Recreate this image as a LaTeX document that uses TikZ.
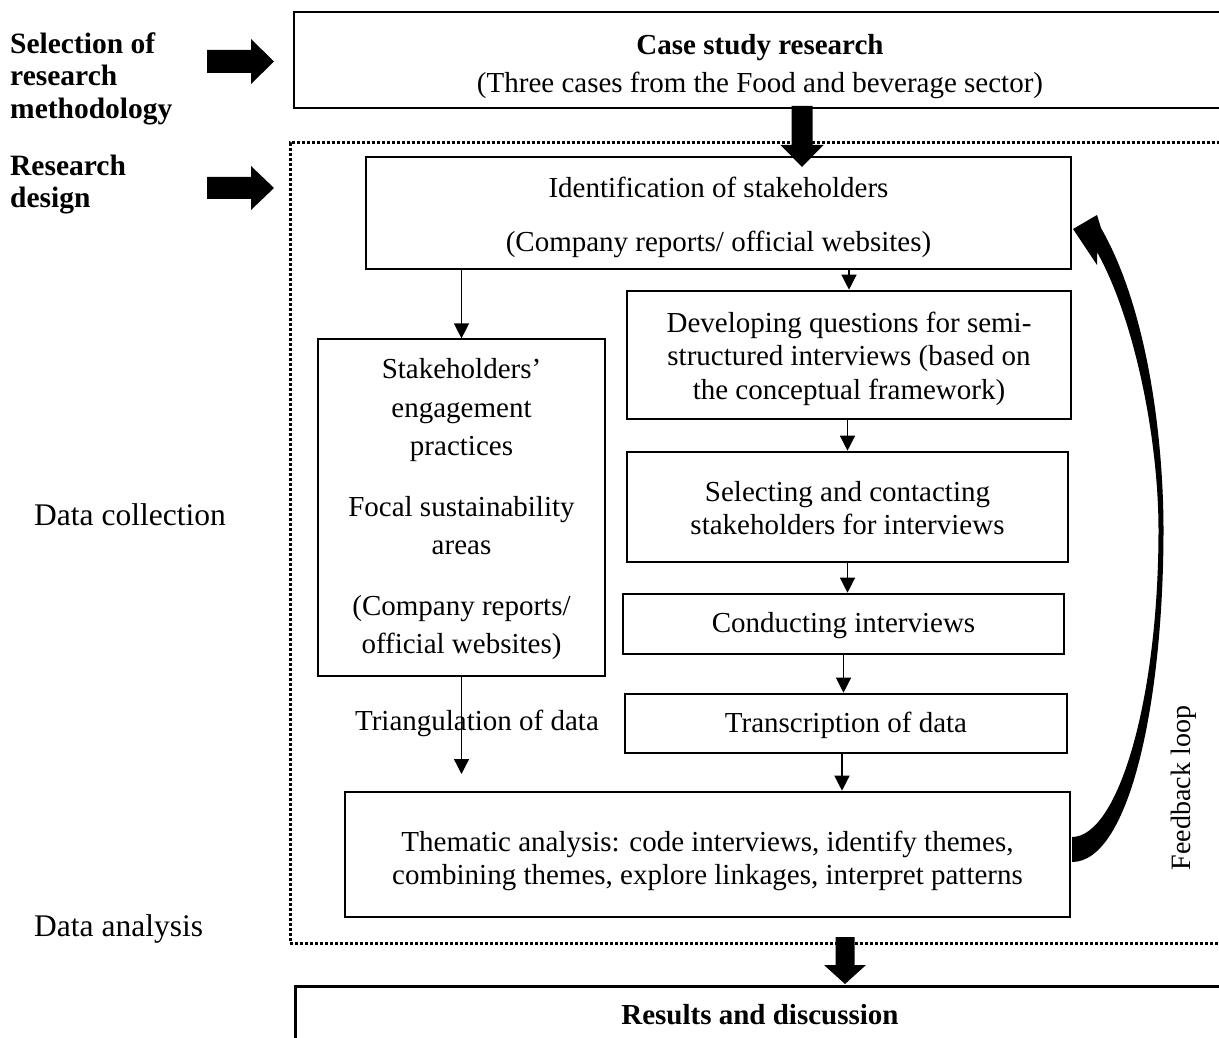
\documentclass[tikz,border=0pt]{standalone}
\usepackage{fontspec}
\setmainfont{Liberation Serif}
\usetikzlibrary{arrows.meta}
\begin{document}
\begin{tikzpicture}[x=1pt,y=-1pt,
  box/.style={draw, line width=2.6pt, inner sep=0pt},
  thinbox/.style={draw, line width=1.2pt, inner sep=0pt},
  frame/.style={draw, line width=3pt, dash pattern=on 3pt off 2pt, inner sep=0pt},
  flow/.style={line width=1.3pt, -{Triangle[length=15pt,width=15pt]}},
  blk/.style={fill=black, draw=none},
  txt/.style={inner sep=0pt, align=center, font=\fontsize{29}{33}\selectfont},
  side/.style={inner sep=0pt, anchor=west, align=left, font=\bfseries\fontsize{29.5}{32.5}\selectfont},
  phase/.style={inner sep=0pt, anchor=west, font=\fontsize{31.5}{36}\selectfont}]
\useasboundingbox (0,0) rectangle (1219,1038);
\clip (0,0) rectangle (1219,1038);

% outer dotted frame of the research design
\node[frame, minimum width=950pt, minimum height=800pt] (design) at (765,543) {};

% boxes
\node[box, minimum width=931pt, minimum height=96pt] (case) at (759.5,60) {};
\node[box, minimum width=705pt, minimum height=112pt] (ident) at (718.5,213) {};
\node[thinbox, minimum width=287pt, minimum height=337pt] (stake) at (461.5,507.5) {};
\node[box, minimum width=444pt, minimum height=128pt] (dev) at (849,355) {};
\node[box, minimum width=441pt, minimum height=110pt] (sel) at (847.5,507) {};
\node[box, minimum width=441pt, minimum height=60pt] (cond) at (843.5,624) {};
\node[box, minimum width=442pt, minimum height=59pt] (trans) at (846,723.5) {};
\node[box, minimum width=725pt, minimum height=125pt] (them) at (707.5,854.5) {};
\node[box, minimum width=931pt, minimum height=100pt, anchor=north west] (res) at (294,985) {};

% box texts
\node[txt, font=\fontsize{29}{38}\selectfont] (casetext) at ([shift={(0.5pt,-7pt)}]case.center)
  {\textbf{Case study research}\\(Three cases from the Food and beverage sector)};
\node[txt, font=\fontsize{29}{38}\selectfont] (identtext) at ([yshift=-4pt]ident.center)
  {Identification of stakeholders\\[16pt](Company reports/ official websites)};
\node[txt, font=\fontsize{29}{38.5}\selectfont] (staketext) at ([yshift=-2pt]stake.center)
  {Stakeholders’\\engagement\\practices\\[22pt]Focal sustainability\\areas\\[22pt](Company reports/\\official websites)};
\node[txt, font=\fontsize{29}{33.5}\selectfont] (devtext) at ([yshift=-3.5pt]dev.center)
  {Developing questions for semi-\\structured interviews (based on\\the conceptual framework)};
\node[txt] (seltext) at ([yshift=-1.5pt]sel.center) {Selecting and contacting\\stakeholders for interviews};
\node[txt] (condtext) at ([yshift=-2pt]cond.center) {Conducting interviews};
\node[txt] (transtext) at ([yshift=-2pt]trans.center) {Transcription of data};
\node[txt] (themtext) at ([yshift=-6.5pt]them.center)
  {Thematic analysis: code interviews, identify themes,\\combining themes, explore linkages, interpret patterns};
\node[txt, font=\bfseries\fontsize{29}{33}\selectfont] (restitle) at (760,1015) {Results and discussion};

% side labels
\node[side] (selm) at (10,78.5) {Selection of\\research\\methodology};
\node[side] (rdes) at (10,184.5) {Research\\design};
\node[phase] (dcol) at (34,515) {Data collection};
\node[phase] (dana) at (34,929) {Data analysis};
\node[txt] (tri) at (477,723) {Triangulation of data};
\node[txt, rotate=90, font=\fontsize{28}{30}\selectfont] (fb) at (1184,788) {Feedback loop};

% thin flow connectors
\draw[flow] (stake.north |- ident.south) -- (stake.north);
\draw[flow] (dev.north |- ident.south) -- (dev.north);
\draw[flow] (sel.north |- dev.south) -- (sel.north);
\draw[flow] (sel.south) -- (sel.south |- cond.north);
\draw[flow] (cond.south) -- (cond.south |- trans.north);
\draw[flow] ([xshift=-4pt]trans.south) -- ([xshift=-4pt]trans.south |- them.north);
\coordinate (triend) at (461.5,774);
\draw[flow] (stake.south) -- (triend);

% block arrows
\fill[blk] (207,50) -- (251,50) -- (251,39) -- (274,61.5) -- (251,84) -- (251,73) -- (207,73) -- cycle;
\fill[blk] (207,177) -- (251,177) -- (251,166) -- (274,188) -- (251,210) -- (251,199) -- (207,199) -- cycle;
\fill[blk] (791.5,106) -- (812.5,106) -- (812.5,145) -- (823.5,145) -- (802,167) -- (780.5,145) -- (791.5,145) -- cycle;
\fill[blk] (835.5,937) -- (854.5,937) -- (854.5,965) -- (866,965) -- (845,984) -- (824,965) -- (835.5,965) -- cycle;

% feedback loop arrow
\fill[blk] (1072,862) .. controls (1130,862) and (1163.5,700) .. (1163.5,530)
  .. controls (1163.5,440) and (1148,310) .. (1101,228)
  -- (1097,215) -- (1073,229) -- (1097,265) -- (1097,252)
  .. controls (1135,320) and (1158.5,440) .. (1158.5,530)
  .. controls (1158.5,700) and (1118,837) .. (1072,837) -- cycle;
\end{tikzpicture}
\end{document}
